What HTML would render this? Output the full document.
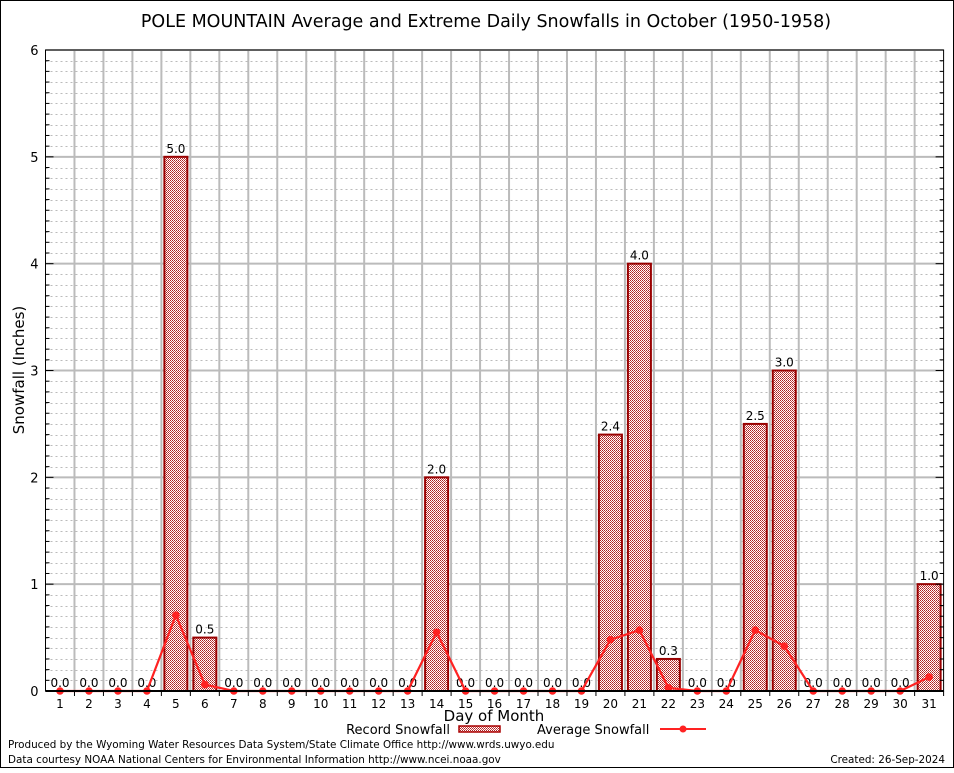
<!DOCTYPE html>
<html><head><meta charset="utf-8"><style>
body{margin:0;background:#fff}
svg text{font-family:"DejaVu Sans","Liberation Sans",sans-serif}
</style></head><body>
<svg id="c" width="954" height="768" xmlns="http://www.w3.org/2000/svg">
<defs>
<pattern id="chk" width="2" height="2" patternUnits="userSpaceOnUse">
<rect width="2" height="2" fill="#fff"/><rect width="1" height="1" fill="#a22"/><rect x="1" y="1" width="1" height="1" fill="#c44"/>
</pattern>
</defs>
<rect x="0.5" y="0.5" width="953" height="767" fill="#fff" stroke="#000"/>
<text x="486" y="27" font-size="17.5" text-anchor="middle">POLE MOUNTAIN Average and Extreme Daily Snowfalls in October (1950-1958)</text>
<g id="grid"></g>
<g id="bars"></g>
<g id="line"></g>
<g id="axes"></g>
<text x="24" y="370" font-size="15" text-anchor="middle" transform="rotate(-90 24 370)">Snowfall (Inches)</text>
<text x="494" y="721" font-size="15" text-anchor="middle">Day of Month</text>
<g>
<text x="450" y="734" font-size="13" text-anchor="end">Record Snowfall</text>
<rect x="459" y="726" width="41" height="6" fill="url(#chk)" stroke="#a00" stroke-width="1.5"/>
<text x="537" y="734" font-size="13">Average Snowfall</text>
<line x1="660" y1="729" x2="706" y2="729" stroke="#f22" stroke-width="2"/>
<circle cx="683" cy="729" r="3.5" fill="#f22"/>
</g>
<text x="8" y="748" font-size="10.4">Produced by the Wyoming Water Resources Data System/State Climate Office http://www.wrds.uwyo.edu</text>
<text x="8" y="763" font-size="10.4">Data courtesy NOAA National Centers for Environmental Information http://www.ncei.noaa.gov</text>
<text x="945" y="763" font-size="10.4" text-anchor="end">Created: 26-Sep-2024</text>
</svg>
<script>
const days=[1,2,3,4,5,6,7,8,9,10,11,12,13,14,15,16,17,18,19,20,21,22,23,24,25,26,27,28,29,30,31];
const recordVals=[0,0,0,0,5.0,0.5,0,0,0,0,0,0,0,2.0,0,0,0,0,0,2.4,4.0,0.3,0,0,2.5,3.0,0,0,0,0,1.0];
const avgVals=[0,0,0,0,0.71,0.06,0,0,0,0,0,0,0,0.55,0,0,0,0,0,0.48,0.57,0.03,0,0,0.57,0.42,0,0,0,0,0.13];
const yTicks=[0,1,2,3,4,5,6];
const NS="http://www.w3.org/2000/svg";
const L=45.5,R=943.6,T=50,B=691,yMax=6;
const step=(R-L)/days.length;
const xs=d=>L+(d-0.5)*step;
const ys=v=>B-(v/yMax)*(B-T);
function mk(tag,attrs,parent){const e=document.createElementNS(NS,tag);for(const k in attrs)e.setAttribute(k,attrs[k]);parent.appendChild(e);return e;}
const grid=document.getElementById('grid'),bars=document.getElementById('bars'),line=document.getElementById('line'),axes=document.getElementById('axes');
for(let i=1;i<yMax*10;i++){if(i%10===0)continue;const y=Math.round(ys(i/10))+0.5;
const g=mk('line',{x1:L,x2:R,y1:y,y2:y,stroke:'#bbb','stroke-dasharray':'2,3','stroke-width':1},grid);
}
for(let k=1;k<days.length;k++){const x=L+k*step;
const g=mk('line',{x1:x,x2:x,y1:T,y2:B,stroke:'#bbb','stroke-width':2},grid);
}
yTicks.forEach(t=>{const y=ys(t);
if(t>0){const g=mk('line',{x1:L,x2:R,y1:y,y2:y,stroke:'#bbb','stroke-width':2},grid);
}
const tk=mk('line',{x1:L,x2:L+8,y1:y,y2:y,stroke:'#000'},axes);

const tk2=mk('line',{x1:R-8,x2:R,y1:y,y2:y,stroke:'#000'},axes);

const tx=mk('text',{x:L-7,y:y+5,'font-size':13,'text-anchor':'end','font-family':'Liberation Serif,serif'},axes);
tx.textContent=t;});
for(let i=0;i<yMax*10;i++){if(i%10===0)continue;const y=ys(i/10);
const m=mk('line',{x1:L,x2:L+4,y1:y,y2:y,stroke:'#000'},axes);
const m2=mk('line',{x1:R-4,x2:R,y1:y,y2:y,stroke:'#000'},axes);}
days.forEach((d,i)=>{const x=xs(d),v=recordVals[i];
if(v>0){const b=mk('rect',{x:x-11.5,y:ys(v),width:23,height:B-ys(v),fill:'url(#chk)',stroke:'#900','stroke-width':2},bars);
}
const lb=mk('text',{x:x,y:ys(v)-4,'font-size':12,'text-anchor':'middle'},bars);
lb.textContent=v.toFixed(1);
const tx=mk('text',{x:x,y:B+17,'font-size':12,'text-anchor':'middle','font-family':'Liberation Serif,serif'},axes);
tx.textContent=d;
const tk=mk('line',{x1:L+(d)*step,x2:L+(d)*step,y1:B,y2:B+5,stroke:'#000'},axes);
});
const pl=mk('polyline',{points:days.map((d,i)=>xs(d)+','+ys(avgVals[i])).join(' '),fill:'none',stroke:'#f22','stroke-width':2.2},line);

days.forEach((d,i)=>{const c=mk('circle',{cx:xs(d),cy:ys(avgVals[i]),r:3.8,fill:'#f22'},line);
});
const fr=mk('rect',{x:L,y:T,width:R-L,height:B-T,fill:'none',stroke:'#000','stroke-width':1},axes);

const xa=mk('line',{x1:L,x2:R,y1:B,y2:B,stroke:'#000','stroke-width':2},axes);

</script>
</body></html>
